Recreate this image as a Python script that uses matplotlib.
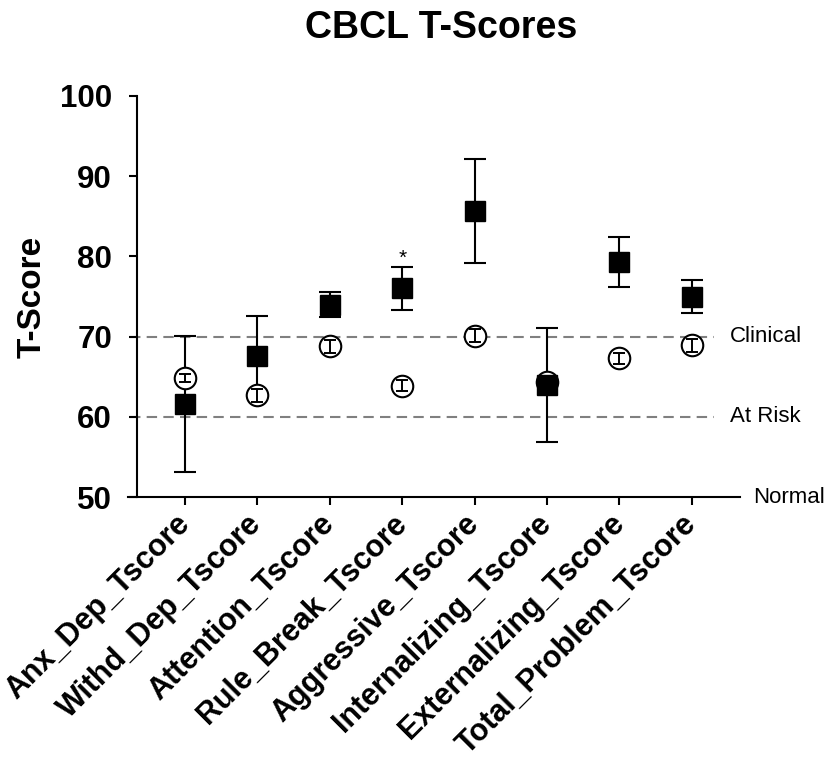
import matplotlib
matplotlib.use('Agg')
import matplotlib.pyplot as plt

plt.rcParams['font.family'] = ['Liberation Sans', 'DejaVu Sans']

# CBCL subscales
categories = ['Anx_Dep_Tscore', 'Withd_Dep_Tscore', 'Attention_Tscore',
              'Rule_Break_Tscore', 'Aggressive_Tscore', 'Internalizing_Tscore',
              'Externalizing_Tscore', 'Total_Problem_Tscore']

# filled squares (mean, error)
sq_mean = [61.6, 67.6, 74.0, 76.0, 85.7, 64.0, 79.3, 75.0]
sq_err = [8.5, 5.0, 1.5, 2.65, 6.5, 7.1, 3.15, 2.1]

# open circles (mean, error)
ci_mean = [64.9, 62.7, 68.8, 63.9, 70.1, 64.4, 67.3, 68.9]
ci_err = [0.5, 0.8, 0.8, 0.7, 0.8, 0.5, 0.7, 0.8]

# reference lines
ref_vals = [70, 60, 50]
ref_labels = ['Clinical', 'At Risk', 'Normal']

star_idx = 3

fig = plt.figure(figsize=(8.29, 7.63), dpi=100)
ax = fig.add_axes([0.1653, 0.3486, 0.7274, 0.5256])

x = list(range(len(categories)))
xmin, xmax = -0.663, 7.666

# dashed cut-off lines
for v in ref_vals[:2]:
    ax.hlines(v, -0.76, 7.31, colors='#808080', linestyles=(0, (5, 3)),
              linewidth=1.5, clip_on=False, zorder=1)

# squares: error lines below the circles, markers on top
ax.errorbar(x, sq_mean, yerr=sq_err, fmt='none', ecolor='black',
            elinewidth=1.5, capsize=8, capthick=1.5, zorder=2)
ax.plot(x, sq_mean, 's', color='black', markersize=15, linestyle='none', zorder=5)

# circles
ax.plot(x, ci_mean, 'o', markerfacecolor='white', markeredgecolor='black',
        markeredgewidth=1.5, markersize=15.5, linestyle='none', zorder=3)
ax.errorbar(x, ci_mean, yerr=ci_err, fmt='none', ecolor='black',
            elinewidth=1.4, capsize=4.5, capthick=1.4, zorder=4)

ax.text(star_idx, sq_mean[star_idx] + sq_err[star_idx] + 1.1, '*',
        ha='center', va='center', fontsize=15)

for v, lab in zip(ref_vals[:2], ref_labels[:2]):
    ax.text(7.53, v, lab, ha='left', va='center', fontsize=16, clip_on=False)
ax.text(7.85, ref_vals[2], ref_labels[2], ha='left', va='center', fontsize=16,
        clip_on=False)

ax.set_xlim(xmin, xmax)
ax.set_ylim(50, 100)
ax.set_yticks([50, 60, 70, 80, 90, 100])
ax.set_xticks(x)
ax.set_xticklabels(categories, rotation=45, ha='right', va='center',
                   rotation_mode='anchor', fontsize=22, fontweight='bold')
for t in ax.get_yticklabels():
    t.set_fontsize(22.5)
    t.set_fontweight('bold')

ax.spines['top'].set_visible(False)
ax.spines['right'].set_visible(False)
ax.spines['left'].set_linewidth(1.5)
ax.spines['bottom'].set_linewidth(1.5)
ax.spines['bottom'].set_bounds(-0.79, xmax)
ax.tick_params(axis='both', direction='out', length=6, width=1.5)
ax.tick_params(axis='y', pad=12)
ax.tick_params(axis='x', pad=10)

ax.set_ylabel('T-Score', fontsize=24, fontweight='bold', labelpad=9)
fig.text(0.532, 0.987, 'CBCL T-Scores', ha='center', va='top',
         fontsize=27, fontweight='bold')

fig.savefig('out.png', dpi=100)
